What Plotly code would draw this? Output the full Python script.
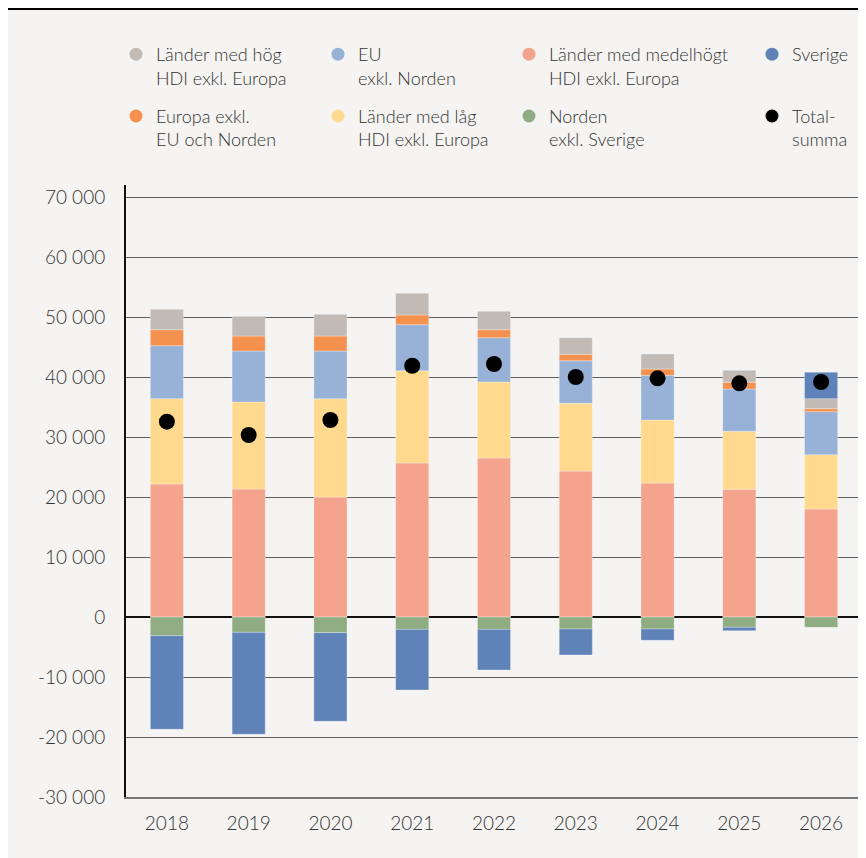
import plotly.graph_objects as go

years = ["2018", "2019", "2020", "2021", "2022", "2023", "2024", "2025", "2026"]

medelhogt = [22170, 21330, 20000, 25670, 26500, 24330, 22330, 21280, 18000]
lag = [14220, 14500, 16380, 15380, 12670, 11280, 10500, 9670, 9050]
eu = [8830, 8500, 7950, 7670, 7380, 7100, 7450, 7050, 7170]
europa = [2670, 2500, 2500, 1620, 1330, 1070, 1050, 1120, 500]
hog = [3400, 3280, 3620, 3620, 3070, 2770, 2500, 2000, 1670]
norden = [-3120, -2560, -2610, -2060, -2060, -2000, -2000, -1720, -1720]
sverige = [-15600, -17000, -14780, -10110, -6780, -4330, -1890, -560, 4400]
total = [32550, 30330, 32830, 41880, 42170, 40000, 39780, 38950, 39170]

ytick_vals = [70000, 60000, 50000, 40000, 30000, 20000, 10000, 0, -10000, -20000, -30000]
ytick_text = ["70 000", "60 000", "50 000", "40 000", "30 000", "20 000", "10 000", "0",
              "-10 000", "-20 000", "-30 000"]

names = {
    "hog": "Länder med hög<br>HDI exkl. Europa",
    "eu": "EU<br>exkl. Norden",
    "medel": "Länder med medelhögt<br>HDI exkl. Europa",
    "sverige": "Sverige<br>\u00a0",
    "europa": "Europa exkl.<br>EU och Norden",
    "lag": "Länder med låg<br>HDI exkl. Europa",
    "norden": "Norden<br>exkl. Sverige",
    "total": "Total-<br>summa",
}
colors = {
    "hog": "#c2bab5",
    "eu": "#98b1d7",
    "medel": "#f4a48c",
    "sverige": "#5f83b8",
    "europa": "#f4914f",
    "lag": "#fed98e",
    "norden": "#8fac83",
    "total": "#000000",
}

fig = go.Figure()

bar_series = [("medel", medelhogt), ("lag", lag), ("eu", eu), ("europa", europa),
              ("hog", hog), ("norden", norden), ("sverige", sverige)]
for key, vals in bar_series:
    fig.add_trace(go.Bar(
        x=years, y=vals, name=names[key].replace("<br>\u00a0", ""), marker_color=colors[key],
        marker_line=dict(color="rgba(255,255,255,0.5)", width=0.6),
        width=0.405, showlegend=False,
    ))

fig.add_trace(go.Scatter(
    x=years, y=total, mode="markers", name=names["total"],
    marker=dict(color="black", size=16), showlegend=False,
))

# legend entries (circle symbols), in four columns
legend_cols = [("legend", ["hog", "europa"]), ("legend2", ["eu", "lag"]),
               ("legend3", ["medel", "norden"]), ("legend4", ["sverige", "total"])]
for lg, keys in legend_cols:
    for key in keys:
        fig.add_trace(go.Scatter(
            x=[None], y=[None], mode="markers", name=names[key],
            marker=dict(color=colors[key], size=13, symbol="circle"),
            legend=lg, legendgroup=key, showlegend=True,
        ))

OFF = 8  # page body margin
W, H = 866 - OFF, 858 - OFF
L = 126 - OFF
T = 185 - OFF
B = H - (797 - OFF)
R = W - (862 - OFF)
pw = W - L - R
ph = H - T - B


def px_x(px):
    return (px - OFF - L) / pw


def px_y(py):
    return (H - B - (py - OFF)) / ph


legend_font = dict(family="Lato", size=18, color="#333333", weight=300)
col_marker_px = [137, 339, 530, 773]
legend_keys = ["legend", "legend2", "legend3", "legend4"]
legend_layout = {}
for lg, mx in zip(legend_keys, col_marker_px):
    legend_layout[lg] = dict(
        x=px_x(mx - 21), xanchor="left", y=px_y(36), yanchor="top",
        orientation="v", valign="top", font=legend_font,
        bgcolor="rgba(0,0,0,0)", borderwidth=0, tracegroupgap=12,
        itemclick=False, itemdoubleclick=False,
    )

tick_font = dict(family="Lato", size=19, color="#333333", weight=300)

fig.update_layout(
    width=W, height=H,
    margin=dict(l=L, r=R, t=T, b=B, pad=0, autoexpand=False),
    barmode="relative",
    paper_bgcolor="#f5f4f2",
    plot_bgcolor="#f5f4f2",
    font=dict(family="Lato", color="#333333"),
    showlegend=True,
    shapes=[
        dict(type="line", xref="paper", yref="paper", x0=px_x(0), x1=px_x(W + 20),
             y0=px_y(9), y1=px_y(9), line=dict(color="#000000", width=2)),
    ],
    **legend_layout,
)

fig.update_yaxes(
    range=[-30000, 72000],
    tickvals=ytick_vals, ticktext=ytick_text,
    showgrid=True, gridcolor="#5e5e5e", gridwidth=1,
    zeroline=True, zerolinecolor="#111111", zerolinewidth=2,
    showline=True, linecolor="#111111", linewidth=2,
    ticks="outside", ticklen=15, tickcolor="rgba(0,0,0,0)",
    tickfont=tick_font,
    fixedrange=True,
)
fig.update_xaxes(
    range=[-0.5, len(years) - 0.5],
    showgrid=False, showline=True, linecolor="#777777", linewidth=2,
    ticks="outside", ticklen=8, tickcolor="rgba(0,0,0,0)",
    tickfont=tick_font,
    fixedrange=True,
)

fig.write_html("out.html")
